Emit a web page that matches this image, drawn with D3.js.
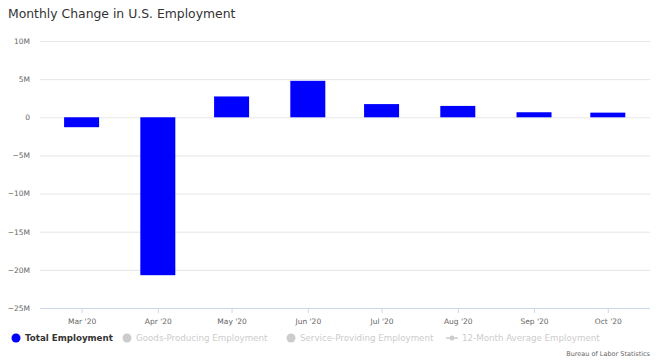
<!DOCTYPE html>
<html><head><meta charset="utf-8">
<script src="https://cdn.jsdelivr.net/npm/d3@7"></script>
<style>body{margin:0;background:#fff}svg{display:block}text{font-family:"DejaVu Sans",Verdana,sans-serif}</style>
</head><body><svg id="c" width="657" height="360"></svg>
<script>
const months = ["2020-03-01","2020-04-01","2020-05-01","2020-06-01","2020-07-01","2020-08-01","2020-09-01","2020-10-01"];
const monthLabels = ["Mar '20","Apr '20","May '20","Jun '20","Jul '20","Aug '20","Sep '20","Oct '20"];
const totalEmployment = [-1.3, -20.7, 2.73, 4.78, 1.73, 1.49, 0.66, 0.61];
const yTicks = [10, 5, 0, -5, -10, -15, -20, -25];
const yTickLabels = ["10M","5M","0","−5M","−10M","−15M","−20M","−25M"];
const legendItems = ["Total Employment","Goods-Producing Employment","Service-Providing Employment","12-Month Average Employment"];

const svg = d3.select("#c");
const parse = d3.utcParse("%Y-%m-%d");
const dates = months.map(parse);
const pL = 40, pR = 650, pT = 41, pB = 308;
const x = d3.scaleUtc()
  .domain([d3.utcHour.offset(dates[0], -16.9*24), d3.utcHour.offset(dates[7], 17.2*24)])
  .range([pL, pR]);
const y = d3.scaleLinear().domain([-25, 10]).range([pB, pT]);

svg.append("text").attr("x", 8).attr("y", 18).attr("font-size", 12.4).attr("fill", "#333")
  .text("Monthly Change in U.S. Employment");

// grid
const gy = svg.append("g").attr("transform", `translate(${pL},0)`)
  .call(d3.axisLeft(y).tickValues(yTicks).tickSize(-(pR-pL)).tickFormat((d,i)=>yTickLabels[i]).tickPadding(10));
gy.select(".domain").remove();
gy.selectAll(".tick line").attr("stroke", "#e6e6e6").filter(d=>d===-25).attr("stroke","none");
gy.selectAll(".tick text").attr("fill", "#666").attr("font-size", 7.5).attr("font-family","DejaVu Sans");

// bars
const bw = 35;
svg.append("g").selectAll("rect").data(totalEmployment).join("rect")
  .attr("x", (d,i)=>x(dates[i]) - bw/2)
  .attr("width", bw)
  .attr("y", d=>Math.min(y(d), y(0)))
  .attr("height", d=>Math.abs(y(d)-y(0)))
  .attr("fill", "#0000ff");

// x axis
const gx = svg.append("g").attr("transform", `translate(0,${pB})`)
  .call(d3.axisBottom(x).tickValues(dates).tickSize(5).tickSizeOuter(0).tickPadding(6).tickFormat((d,i)=>monthLabels[i]));
gx.select(".domain").attr("stroke", "#ccd6eb").attr("d", `M${pL},0.5H${pR}`);
gx.selectAll(".tick line").attr("stroke", "#ccd6eb");
gx.selectAll(".tick text").attr("fill", "#666").attr("font-size", 7.5).attr("font-family","DejaVu Sans");

// legend
const lg = svg.append("g");
const lx = [16, 127, 291, 452];
legendItems.forEach((name,i)=>{
  const col = i===0 ? "#0000ff" : "#cccccc";
  if (i<3) lg.append("circle").attr("cx", lx[i]).attr("cy", 338).attr("r", 4.5).attr("fill", col);
  else {
    lg.append("line").attr("x1", lx[i]-6).attr("x2", lx[i]+6).attr("y1", 338).attr("y2", 338).attr("stroke", col).attr("stroke-width", 1.5);
    lg.append("circle").attr("cx", lx[i]).attr("cy", 338).attr("r", 2.5).attr("fill", col);
  }
  lg.append("text").attr("x", lx[i] + (i===3?10:9)).attr("y", 341).attr("font-size", 8.7)
    .attr("font-weight", i===0 ? "bold" : "normal").attr("fill", i===0 ? "#333" : "#cccccc").text(name);
});

svg.append("text").attr("x", 650).attr("y", 356).attr("text-anchor","end").attr("font-size", 6.5).attr("fill","#666")
  .text("Bureau of Labor Statistics");
</script></body></html>
